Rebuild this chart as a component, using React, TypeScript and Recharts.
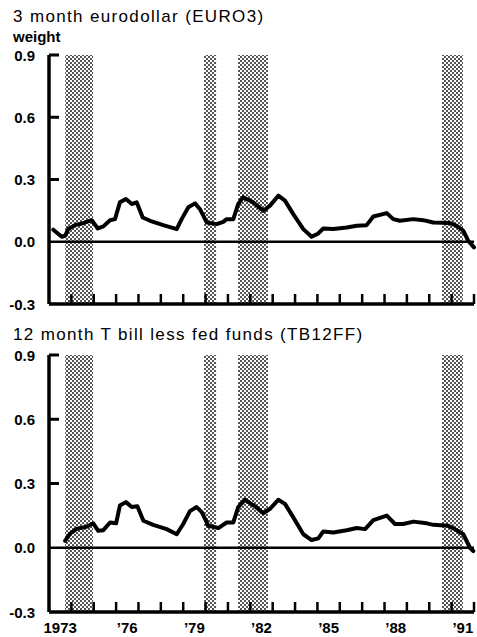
import { LineChart, Line, XAxis, YAxis, ReferenceArea, ReferenceLine } from 'recharts';

// weights on the 3 month eurodollar rate
const euroYears = [
  1973.19, 1973.57, 1973.72, 1973.86, 1974.16, 1974.53, 1974.91, 1975.18, 1975.43, 1975.73,
  1975.95, 1976.17, 1976.44, 1976.7, 1976.92, 1977.19, 1977.52, 1978.11, 1978.71, 1978.93,
  1979.23, 1979.53, 1979.75, 1980.05, 1980.5, 1980.79, 1980.94, 1981.24, 1981.46, 1981.68,
  1982.13, 1982.58, 1982.88, 1983.25, 1983.55, 1983.92, 1984.37, 1984.74, 1985.04, 1985.26,
  1985.71, 1986.31, 1986.76, 1987.2, 1987.5, 1988.1, 1988.39, 1988.69, 1989.29, 1989.73,
  1990.18, 1990.93, 1991.23, 1991.52, 1991.74, 1992.0,
];
const euroWeights = [
  0.058, 0.024, 0.029, 0.061, 0.08, 0.09, 0.104, 0.064, 0.074, 0.104,
  0.109, 0.19, 0.206, 0.182, 0.19, 0.117, 0.101, 0.08, 0.061, 0.109,
  0.166, 0.185, 0.157, 0.093, 0.085, 0.096, 0.109, 0.109, 0.182, 0.214,
  0.19, 0.149, 0.174, 0.222, 0.198, 0.133, 0.061, 0.024, 0.04, 0.064,
  0.061, 0.069, 0.077, 0.08, 0.122, 0.138, 0.109, 0.101, 0.109, 0.104,
  0.093, 0.09, 0.077, 0.053, 0.005, -0.027,
];

// weights on the 12 month T bill less fed funds spread
const tbYears = [
  1973.72, 1973.94, 1974.24, 1974.68, 1974.98, 1975.2, 1975.43, 1975.73, 1976.0, 1976.17,
  1976.44, 1976.7, 1976.95, 1977.22, 1977.66, 1978.26, 1978.71, 1979.0, 1979.3, 1979.6,
  1979.83, 1980.12, 1980.57, 1980.94, 1981.24, 1981.46, 1981.76, 1982.21, 1982.58, 1982.88,
  1983.25, 1983.55, 1983.92, 1984.37, 1984.74, 1985.04, 1985.26, 1985.71, 1986.31, 1986.76,
  1987.13, 1987.5, 1988.1, 1988.47, 1988.84, 1989.29, 1989.89, 1990.18, 1990.85, 1991.23,
  1991.52, 1991.82, 1991.97,
];
const tbWeights = [
  0.032, 0.066, 0.088, 0.098, 0.114, 0.079, 0.082, 0.118, 0.114, 0.197,
  0.213, 0.19, 0.194, 0.126, 0.107, 0.087, 0.063, 0.111, 0.171, 0.19,
  0.166, 0.103, 0.092, 0.118, 0.118, 0.19, 0.224, 0.193, 0.161, 0.182,
  0.224, 0.205, 0.142, 0.063, 0.036, 0.044, 0.076, 0.071, 0.082, 0.092,
  0.087, 0.129, 0.15, 0.111, 0.111, 0.122, 0.114, 0.107, 0.103, 0.082,
  0.063, 0.0, -0.016,
];

// NBER recessions
const recessionStarts = [1973.72, 1979.93, 1981.45, 1990.57];
const recessionEnds = [1974.97, 1980.47, 1982.79, 1991.51];

const weightTicks = [-0.3, 0, 0.3, 0.6, 0.9];
const yearTicks = [
  1974, 1975, 1976, 1977, 1978, 1979, 1980, 1981, 1982, 1983,
  1984, 1985, 1986, 1987, 1988, 1989, 1990, 1991, 1992,
];
const yearLabelAt = [1973.5, 1976.5, 1979.5, 1982.5, 1985.5, 1988.5, 1991.5];
const yearLabels = ['1973', '\u201976', '\u201979', '\u201982', '\u201985', '\u201988', '\u201991'];

const FONT = '"Liberation Sans", Arial, Helvetica, sans-serif';
const xTicks = [...yearTicks, ...yearLabelAt].sort((a, b) => a - b);

function toRows(years: number[], weights: number[]) {
  return years.map((t, i) => ({ t, w: weights[i] }));
}

function YearTick(props: any) {
  const { x, y, payload, showLabels } = props;
  const i = yearLabelAt.indexOf(payload.value);
  return (
    <g>
      {i < 0 && <line x1={x} x2={x} y1={y} y2={y - 10} stroke="#000" strokeWidth={2.5} />}
      {i >= 0 && showLabels && (
        <text x={x} y={y + 21} textAnchor="middle" fontFamily={FONT} fontSize={15} fontWeight="bold" fill="#000">
          {yearLabels[i]}
        </text>
      )}
    </g>
  );
}

function WeightTick(props: any) {
  const { x, y, payload } = props;
  const v = payload.value as number;
  return (
    <g>
      {v > 0 && <line x1={x} x2={x + 10} y1={y} y2={y} stroke="#000" strokeWidth={3} />}
      <text x={x - 14} y={y + 5.5} textAnchor="end" fontFamily={FONT} fontSize={15} fontWeight="bold" fill="#000">
        {v.toFixed(1)}
      </text>
    </g>
  );
}

function WeightPanel({ rows, height, axisHeight, showLabels, patternId }: any) {
  return (
    <LineChart width={477} height={height} data={rows} margin={{ top: 55, right: 3, bottom: 0, left: 0 }}>
      <defs>
        <pattern id={patternId} width={4} height={4} patternUnits="userSpaceOnUse">
          <rect x={0} y={0} width={2} height={2} fill="#555" />
          <rect x={2} y={2} width={2} height={2} fill="#555" />
        </pattern>
      </defs>
      {recessionStarts.map((s, i) => (
        <ReferenceArea key={i} x1={s} x2={recessionEnds[i]} fill={`url(#${patternId})`} fillOpacity={1} stroke="none" />
      ))}
      <XAxis
        dataKey="t"
        type="number"
        domain={[1973, 1992]}
        ticks={xTicks}
        interval={0}
        height={axisHeight}
        tickSize={0}
        tickMargin={0}
        tickLine={false}
        axisLine={{ stroke: '#000', strokeWidth: 3 }}
        tick={(p: any) => <YearTick {...p} showLabels={showLabels} />}
      />
      <YAxis
        type="number"
        domain={[-0.3, 0.9]}
        ticks={weightTicks}
        interval={0}
        width={49}
        tickSize={0}
        tickMargin={0}
        tickLine={false}
        axisLine={{ stroke: '#000', strokeWidth: 3 }}
        tick={(p: any) => <WeightTick {...p} />}
      />
      {/* left and bottom frame, plus the zero line */}
      <ReferenceLine x={1973} stroke="#000" strokeWidth={3} ifOverflow="visible" />
      <ReferenceLine y={-0.3} stroke="#000" strokeWidth={3} ifOverflow="visible" />
      <ReferenceLine y={0} stroke="#000" strokeWidth={2.5} />
      <Line
        dataKey="w"
        type="linear"
        stroke="#000"
        strokeWidth={4}
        strokeLinejoin="round"
        strokeLinecap="round"
        dot={false}
        isAnimationActive={false}
      />
    </LineChart>
  );
}

const titleStyle: React.CSSProperties = {
  position: 'absolute',
  left: 13,
  fontFamily: FONT,
  fontSize: 17,
  lineHeight: '17px',
  letterSpacing: 1.35,
  whiteSpace: 'nowrap',
  color: '#000',
};

export default function App() {
  return (
    <div style={{ position: 'relative', width: 477, height: 637, background: '#fff' }}>
      <style>{'body { margin: 0; }'}</style>
      <div style={{ position: 'relative' }}>
        <WeightPanel rows={toRows(euroYears, euroWeights)} height={316} axisHeight={12} showLabels={false} patternId="dotsA" />
      </div>
      <div style={{ position: 'relative', marginTop: -16 }}>
        <WeightPanel rows={toRows(tbYears, tbWeights)} height={337} axisHeight={25} showLabels patternId="dotsB" />
      </div>
      <div style={{ ...titleStyle, top: 7.6 }}>3 month eurodollar (EURO3)</div>
      <div
        style={{
          position: 'absolute',
          left: 13,
          top: 29.3,
          fontFamily: FONT,
          fontSize: 15,
          lineHeight: '15px',
          fontWeight: 'bold',
          color: '#000',
        }}
      >
        weight
      </div>
      <div style={{ ...titleStyle, top: 325.6 }}>12 month T bill less fed funds (TB12FF)</div>
    </div>
  );
}
